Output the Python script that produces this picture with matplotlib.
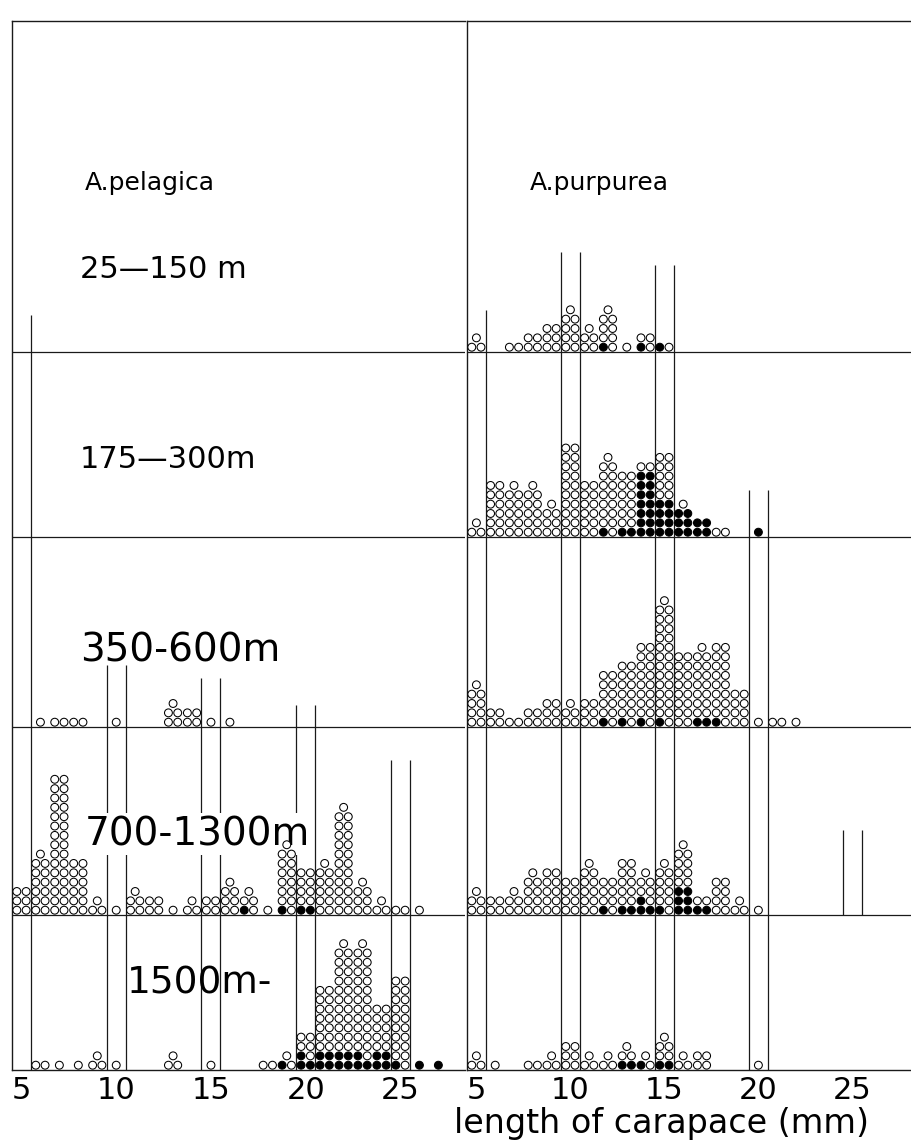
import matplotlib.pyplot as plt

# carapace length classes (mm), one stack of circles per class
sizes = list(range(5, 28))
depth_labels = ['25—150 m', '175—300m', '350-600m', '700-1300m', '1500m-']
tick_values = [5, 10, 15, 20, 25]
tick_labels = ['5', '10', '15', '20', '25']

# A. pelagica: specimens per class, and how many of them are black
pel_25_150 = [0] * 23
pel_175_300 = [0] * 23
pel_350_600 = [0, 1, 2, 2, 0, 1, 0, 0, 5, 4, 1, 1, 0, 0, 0, 0, 0, 0, 0, 0, 0, 0, 0]
pel_700_1300 = [6, 13, 30, 12, 3, 1, 5, 4, 1, 3, 4, 7, 5, 1, 15, 10, 11, 23, 7, 3, 2, 1, 0]
pel_1500 = [0, 2, 1, 1, 3, 1, 0, 0, 3, 0, 1, 0, 0, 2, 3, 8, 18, 27, 27, 14, 20, 1, 1]

pel_25_150_black = [0] * 23
pel_175_300_black = [0] * 23
pel_350_600_black = [0] * 23
pel_700_1300_black = [0, 0, 0, 0, 0, 0, 0, 0, 0, 0, 0, 0, 1, 0, 1, 2, 0, 0, 0, 0, 0, 0, 0]
pel_1500_black = [0, 0, 0, 0, 0, 0, 0, 0, 0, 0, 0, 0, 0, 0, 1, 3, 4, 4, 3, 4, 1, 1, 1]

# A. purpurea
pur_25_150 = [3, 0, 2, 4, 6, 9, 5, 9, 1, 4, 2, 0, 0, 0, 0, 0, 0, 0, 0, 0, 0, 0, 0]
pur_175_300 = [3, 12, 11, 11, 7, 20, 12, 17, 14, 16, 18, 7, 4, 2, 0, 1, 0, 0, 0, 0, 0, 0, 0]
pur_350_600 = [9, 4, 2, 4, 6, 5, 6, 12, 14, 18, 27, 16, 17, 18, 8, 1, 2, 1, 0, 0, 0, 0, 0]
pur_700_1300 = [5, 4, 5, 9, 10, 8, 11, 8, 12, 9, 11, 15, 4, 8, 3, 1, 0, 0, 0, 0, 0, 0, 0]
pur_1500 = [3, 1, 0, 2, 3, 6, 3, 3, 5, 3, 7, 3, 4, 0, 0, 1, 0, 0, 0, 0, 0, 0, 0]

pur_25_150_black = [0, 0, 0, 0, 0, 0, 0, 1, 0, 1, 1, 0, 0, 0, 0, 0, 0, 0, 0, 0, 0, 0, 0]
pur_175_300_black = [0, 0, 0, 0, 0, 0, 0, 1, 2, 14, 8, 6, 4, 0, 0, 1, 0, 0, 0, 0, 0, 0, 0]
pur_350_600_black = [0, 0, 0, 0, 0, 0, 0, 1, 1, 1, 1, 0, 2, 1, 0, 0, 0, 0, 0, 0, 0, 0, 0]
pur_700_1300_black = [0, 0, 0, 0, 0, 0, 0, 1, 2, 3, 1, 6, 2, 0, 0, 0, 0, 0, 0, 0, 0, 0, 0]
pur_1500_black = [0, 0, 0, 0, 0, 0, 0, 0, 2, 1, 2, 0, 0, 0, 0, 0, 0, 0, 0, 0, 0, 0, 0]

pelagica = [pel_25_150, pel_175_300, pel_350_600, pel_700_1300, pel_1500]
pelagica_black = [pel_25_150_black, pel_175_300_black, pel_350_600_black,
                  pel_700_1300_black, pel_1500_black]
purpurea = [pur_25_150, pur_175_300, pur_350_600, pur_700_1300, pur_1500]
purpurea_black = [pur_25_150_black, pur_175_300_black, pur_350_600_black,
                  pur_700_1300_black, pur_1500_black]

# layout in pixels
W, H = 912, 1142
TOP = 21
BASES = [352, 537, 727, 915, 1070]
R, DY = 4.8, 9.35
LINE = '#1a1a1a'

fig = plt.figure(figsize=(W / 100, H / 100), dpi=100)
fig.patch.set_facecolor('white')


def px_axes(x0, x1):
    ax = fig.add_axes([x0 / W, 1 - BASES[-1] / H, (x1 - x0) / W, (BASES[-1] - TOP) / H])
    ax.set_facecolor('none')
    return ax


def draw_stacks(ax, counts, black, base):
    xs, ys, fc = [], [], []
    for v, n, nb in zip(sizes, counts, black):
        for i in range(n):
            row, col = divmod(i, 2)
            if i == n - 1 and col == 0:
                dx = 0.0
            else:
                dx = -0.245 if col == 0 else 0.245
            xs.append(v + dx)
            ys.append(base - R - row * DY)
            fc.append('black' if i < nb else 'white')
    if xs:
        ax.scatter(xs, ys, s=32, facecolors=fc, edgecolors='black',
                   linewidths=0.75, zorder=3, clip_on=False)


def setup(ax, px_per_mm, width_px, segments):
    ax.set_xlim(4.5, 4.5 + width_px / px_per_mm)
    ax.set_ylim(BASES[-1], TOP)
    for s in ['top', 'left', 'bottom']:
        ax.spines[s].set_linewidth(1.0)
        ax.spines[s].set_color(LINE)
    ax.spines['right'].set_visible(False)
    for b in BASES[:-1]:
        ax.axhline(b, color=LINE, lw=0.9, zorder=1)
    for x, y0, y1 in segments:
        ax.vlines(x, y0, y1, color=LINE, lw=0.9, zorder=1)
    ax.yaxis.set_visible(False)
    ax.set_xticks(tick_values)
    ax.set_xticklabels(tick_labels, fontsize=22)
    ax.tick_params(axis='x', length=0, pad=4)


# left panel: A. pelagica
ax1 = px_axes(12, 465)
setup(ax1, 18.95, 453,
      [(5.5, 315, 1070), (9.5, 665, 1070), (10.5, 665, 1070),
       (14.5, 678, 1070), (15.5, 678, 1070), (19.5, 705, 1070),
       (20.5, 705, 1070), (24.5, 760, 1070), (25.5, 760, 1070)])
for counts, black, base in zip(pelagica, pelagica_black, BASES):
    draw_stacks(ax1, counts, black, base)

# right panel: A. purpurea
ax2 = px_axes(467, 912)
setup(ax2, 18.8, 445,
      [(5.5, 310, 1070), (9.5, 252, 1070), (10.5, 252, 1070),
       (14.5, 265, 1070), (15.5, 265, 1070), (19.5, 490, 1070),
       (20.5, 490, 1070), (24.5, 830, 915), (25.5, 830, 915)])
for counts, black, base in zip(purpurea, purpurea_black, BASES):
    draw_stacks(ax2, counts, black, base)


def ftext(ax, x, y, s, size, **kw):
    ax.text(x / W, 1 - y / H, s, fontsize=size, va='center',
            transform=fig.transFigure, clip_on=False, zorder=2, **kw)


ftext(ax1, 85, 183, 'A.pelagica', 18)
ftext(ax2, 530, 183, 'A.purpurea', 18)
label_pos = [(80, 270, 22), (80, 460, 22), (80, 651, 28), (85, 834, 28), (127, 983, 27)]
for (x, y, sz), lab in zip(label_pos, depth_labels):
    if lab == '700-1300m':
        ftext(ax1, x, y, lab, sz, bbox=dict(facecolor='white', edgecolor='none', pad=1))
    else:
        ftext(ax1, x, y, lab, sz)
ftext(ax2, 662, 1123, 'length of carapace (mm)', 24, ha='center')

fig.savefig('out.png', dpi=100, facecolor='white')
